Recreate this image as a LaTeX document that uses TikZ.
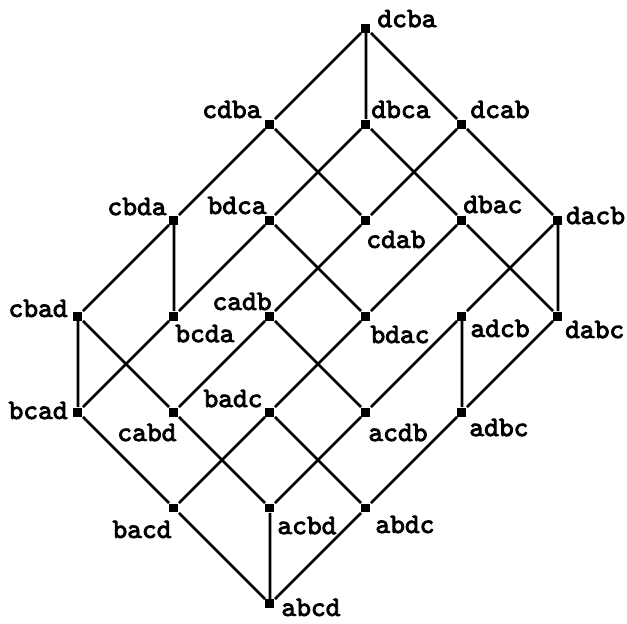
\documentclass[tikz,border=0pt]{standalone}
\usepackage{fontspec}
\setmonofont{lmmono10-regular.otf}[AutoFakeBold=3]
\usetikzlibrary{positioning}
\tikzset{
    font=\ttfamily\bfseries\fontsize{12.5}{14}\selectfont,
    % Points & Labels
    pt/.style={rectangle, fill=black, inner sep=0pt, minimum size=4pt},
    lbl/.style={inner sep=0pt},
    tl/.style={lbl, anchor=base west},
    tr/.style={lbl, anchor=base east},
    % Edges
    edge/.style={line width=1.2pt, black}
}
\begin{document}
\begin{tikzpicture}[x=1.5cm, y=1.5cm]
\useasboundingbox (-0.8125,-0.198) rectangle (5.719,6.292);

% points, rank by rank
\node[pt] (abcd) at (2,0) {};
\node[pt] (bacd) at (1,1) {};
\node[pt] (acbd) at (2,1) {};
\node[pt] (abdc) at (3,1) {};
\node[pt] (bcad) at (0,2) {};
\node[pt] (cabd) at (1,2) {};
\node[pt] (badc) at (2,2) {};
\node[pt] (acdb) at (3,2) {};
\node[pt] (adbc) at (4,2) {};
\node[pt] (cbad) at (0,3) {};
\node[pt] (bcda) at (1,3) {};
\node[pt] (cadb) at (2,3) {};
\node[pt] (bdac) at (3,3) {};
\node[pt] (adcb) at (4,3) {};
\node[pt] (dabc) at (5,3) {};
\node[pt] (cbda) at (1,4) {};
\node[pt] (bdca) at (2,4) {};
\node[pt] (cdab) at (3,4) {};
\node[pt] (dbac) at (4,4) {};
\node[pt] (dacb) at (5,4) {};
\node[pt] (cdba) at (2,5) {};
\node[pt] (dbca) at (3,5) {};
\node[pt] (dcab) at (4,5) {};
\node[pt] (dcba) at (3,6) {};

% labels
\node[tl] (l-abcd) at ([shift={(4.9pt,-5.3pt)}]abcd) {abcd};
\node[tr] (l-bacd) at ([shift={(-0.9pt,-13.3pt)}]bacd) {bacd};
\node[tl] (l-acbd) at ([shift={(3.1pt,-11.6pt)}]acbd) {acbd};
\node[tl] (l-abdc) at ([shift={(4pt,-11.1pt)}]abdc) {abdc};
\node[tr] (l-bcad) at ([shift={(-4.4pt,-3.1pt)}]bcad) {bcad};
\node[tr] (l-cabd) at ([shift={(1.3pt,-12.9pt)}]cabd) {cabd};
\node[tr] (l-badc) at ([shift={(-3.1pt,2.2pt)}]badc) {badc};
\node[tl] (l-acdb) at ([shift={(0.9pt,-12.9pt)}]acdb) {acdb};
\node[tl] (l-adbc) at ([shift={(3.1pt,-10.7pt)}]adbc) {adbc};
\node[tr] (l-cbad) at ([shift={(-4.4pt,-0.4pt)}]cbad) {cbad};
\node[tl] (l-bcda) at ([shift={(0.4pt,-11.6pt)}]bcda) {bcda};
\node[tr] (l-cadb) at ([shift={(0.9pt,2.7pt)}]cadb) {cadb};
\node[tl] (l-bdac) at ([shift={(1.8pt,-12pt)}]bdac) {bdac};
\node[tl] (l-adcb) at ([shift={(3.6pt,-9.3pt)}]adcb) {adcb};
\node[tl] (l-dabc) at ([shift={(3pt,-9.8pt)}]dabc) {dabc};
\node[tr] (l-cbda) at ([shift={(-3.1pt,2.2pt)}]cbda) {cbda};
\node[tr] (l-bdca) at ([shift={(-1.3pt,2.7pt)}]bdca) {bdca};
\node[tl] (l-cdab) at ([shift={(0pt,-12.4pt)}]cdab) {cdab};
\node[tl] (l-dbac) at ([shift={(0.4pt,3.1pt)}]dbac) {dbac};
\node[tl] (l-dacb) at ([shift={(3.4pt,-1.8pt)}]dacb) {dacb};
\node[tr] (l-cdba) at ([shift={(-3.6pt,2.7pt)}]cdba) {cdba};
\node[tl] (l-dbca) at ([shift={(2.2pt,2.7pt)}]dbca) {dbca};
\node[tl] (l-dcab) at ([shift={(3.6pt,2.7pt)}]dcab) {dcab};
\node[tl] (l-dcba) at ([shift={(4.9pt,0.4pt)}]dcba) {dcba};

\draw[edge] (abcd) -- (bacd) (abcd) -- (acbd) (abcd) -- (abdc);
\draw[edge] (bacd) -- (bcad) (bacd) -- (badc);
\draw[edge] (acbd) -- (cabd) (acbd) -- (acdb);
\draw[edge] (abdc) -- (badc) (abdc) -- (adbc);
\draw[edge] (bcad) -- (cbad) (bcad) -- (bcda);
\draw[edge] (cabd) -- (cbad) (cabd) -- (cadb);
\draw[edge] (badc) -- (bdac);
\draw[edge] (acdb) -- (cadb) (acdb) -- (adcb);
\draw[edge] (adbc) -- (dabc) (adbc) -- (adcb);
\draw[edge] (cbad) -- (cbda);
\draw[edge] (bcda) -- (cbda) (bcda) -- (bdca);
\draw[edge] (cadb) -- (cdab);
\draw[edge] (bdac) -- (dbac) (bdac) -- (bdca);
\draw[edge] (adcb) -- (dacb);
\draw[edge] (dabc) -- (dbac) (dabc) -- (dacb);
\draw[edge] (cbda) -- (cdba);
\draw[edge] (bdca) -- (dbca);
\draw[edge] (cdab) -- (dcab) (cdab) -- (cdba);
\draw[edge] (dbac) -- (dbca);
\draw[edge] (dacb) -- (dcab);
\draw[edge] (cdba) -- (dcba) (dbca) -- (dcba) (dcab) -- (dcba);

\end{tikzpicture}
\end{document}
